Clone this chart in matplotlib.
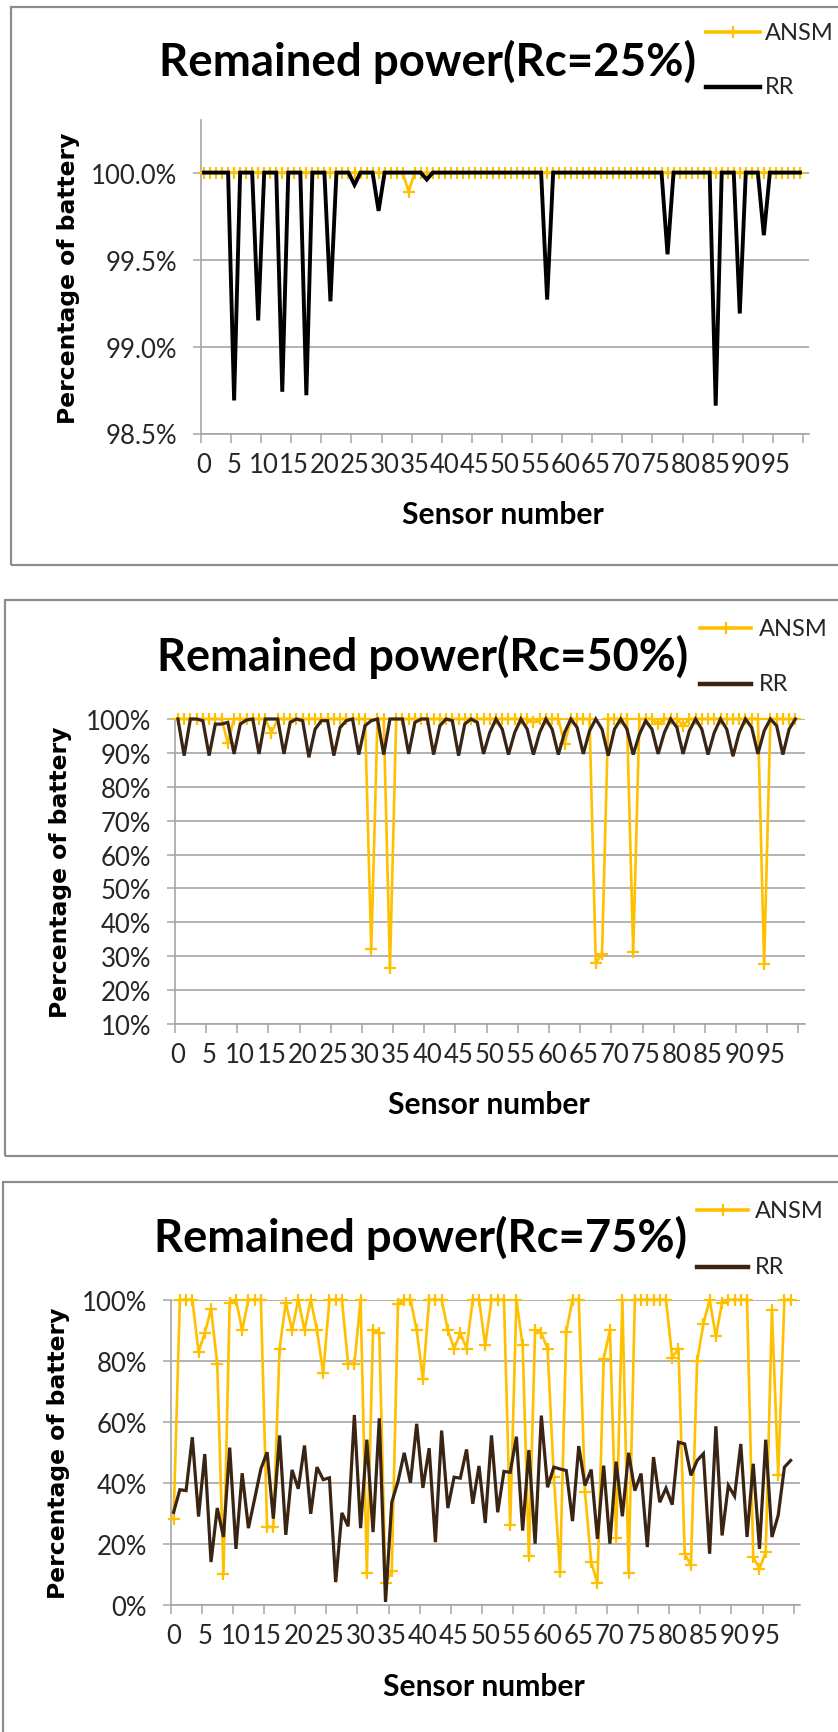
import matplotlib
matplotlib.use("Agg")
import matplotlib.pyplot as plt
from matplotlib.lines import Line2D
from matplotlib.patches import Rectangle
from matplotlib.ticker import FixedLocator, FuncFormatter

# ---------------------------------------------------------------- data
sensor_ids = list(range(100))
label_positions = list(range(0, 100, 5))
tick_labels = [str(v) for v in label_positions]

ansm_25 = [
    100, 100, 100, 100, 100, 100, 100, 100, 100, 100,
    100, 100, 100, 100, 100, 100, 100, 100, 100, 100,
    100, 100, 100, 100, 100, 100, 100, 100, 100, 100,
    100, 100, 100, 100, 99.89, 100, 100, 100, 100, 100,
    100, 100, 100, 100, 100, 100, 100, 100, 100, 100,
    100, 100, 100, 100, 100, 100, 100, 100, 100, 100,
    100, 100, 100, 100, 100, 100, 100, 100, 100, 100,
    100, 100, 100, 100, 100, 100, 100, 100, 100, 100,
    100, 100, 100, 100, 100, 100, 100, 100, 100, 100,
    100, 100, 100, 100, 100, 100, 100, 100, 100, 100,
]
rr_25 = [
    100, 100, 100, 100, 100, 98.69, 100, 100, 100, 99.15,
    100, 100, 100, 98.74, 100, 100, 100, 98.72, 100, 100,
    100, 99.26, 100, 100, 100, 99.93, 100, 100, 100, 99.78,
    100, 100, 100, 100, 100, 100, 100, 99.96, 100, 100,
    100, 100, 100, 100, 100, 100, 100, 100, 100, 100,
    100, 100, 100, 100, 100, 100, 100, 99.27, 100, 100,
    100, 100, 100, 100, 100, 100, 100, 100, 100, 100,
    100, 100, 100, 100, 100, 100, 100, 99.53, 100, 100,
    100, 100, 100, 100, 100, 98.66, 100, 100, 100, 99.19,
    100, 100, 100, 99.64, 100, 100, 100, 100, 100, 100,
]

ansm_50 = [
    100, 100, 100, 100, 100, 100, 100, 100, 93, 100,
    100, 100, 100, 100, 100, 96, 100, 100, 100, 100,
    100, 100, 100, 100, 100, 100, 100, 100, 100, 100,
    100, 32, 100, 100, 26.4, 100, 100, 100, 100, 100,
    100, 100, 100, 100, 100, 100, 100, 100, 100, 100,
    100, 100, 100, 100, 100, 100, 100, 99, 100, 100,
    100, 100, 92.6, 100, 100, 100, 100, 28, 30.7, 100,
    100, 100, 100, 31.2, 100, 100, 100, 98.5, 100, 100,
    100, 98, 100, 100, 100, 100, 100, 100, 100, 100,
    100, 100, 100, 100, 27.6, 100, 100, 100, 100, 100,
]
rr_50 = [
    100, 89.2, 100, 100, 99.5, 89.2, 98.5, 98.5, 99, 89.7,
    98.5, 99.7, 100, 89.7, 100, 100, 100, 89.7, 99, 100,
    99.5, 88.7, 97, 99.5, 99.5, 89.2, 97.5, 99.5, 100, 89.5,
    98, 99.5, 100, 89.5, 100, 100, 100, 89.7, 99, 100,
    100, 89.5, 98, 100, 99.5, 89.2, 98.5, 100, 99, 89.7,
    96, 100, 97, 89.5, 96, 100, 97, 89.5, 96, 100,
    97, 89.5, 96, 100, 97.5, 89.7, 96.5, 100, 97, 89.2,
    97, 100, 97, 89.5, 95.5, 99.5, 97, 89.7, 96, 100,
    97.5, 89.7, 96.5, 100, 97, 89.5, 96, 100, 97, 89,
    96, 100, 97.5, 89.7, 96.5, 100, 98, 89.5, 97, 100,
]

ansm_75 = [
    28.2, 100, 100, 100, 83, 89, 97, 79, 10, 99,
    100, 90, 100, 100, 100, 25.5, 25.5, 84, 99, 90,
    100, 90, 100, 90, 76, 100, 100, 100, 79, 79,
    100, 10.5, 90, 89, 7, 11, 98.5, 100, 100, 90,
    74, 100, 100, 100, 90, 84, 89, 84, 100, 100,
    85, 100, 100, 100, 26, 100, 85, 16, 90, 89,
    84, 42, 10.7, 89.5, 100, 100, 37, 14, 7, 80.6,
    90, 22, 100, 10.4, 100, 100, 100, 100, 100, 100,
    81, 84, 16.7, 13, 80, 92, 100, 88, 99, 100,
    100, 100, 100, 15.6, 11.8, 17.2, 96.7, 42.4, 100, 100,
]
rr_75 = [
    30.3, 37.7, 37.4, 54.9, 28.9, 49.4, 14.0, 31.7, 22.2, 51.5,
    18.3, 43.1, 25.1, 34.7, 44.5, 50.0, 28.2, 55.5, 22.9, 44.2,
    38.0, 52.2, 29.8, 45.1, 41.0, 41.6, 7.4, 30.1, 25.7, 62.2,
    25.1, 54.1, 23.8, 61.1, 0.9, 33.6, 40.4, 49.8, 40.0, 59.3,
    38.3, 51.3, 20.5, 57.1, 31.7, 41.8, 41.5, 50.9, 33.1, 45.5,
    26.8, 55.5, 30.3, 43.7, 43.4, 55.1, 24.3, 50.7, 20.0, 62.0,
    38.5, 45.1, 44.5, 44.0, 27.4, 52.0, 39.1, 44.3, 21.6, 45.6,
    20.0, 46.9, 29.0, 49.8, 37.4, 43.0, 18.9, 48.4, 33.6, 38.2,
    32.8, 53.3, 52.7, 42.4, 47.3, 49.5, 16.7, 58.5, 22.7, 39.1,
    35.6, 52.7, 22.2, 46.2, 18.3, 54.1, 22.2, 29.3, 45.1, 47.3,
]

series_names = ["ANSM", "RR"]
titles = ["Remained power(Rc=25%)", "Remained power(Rc=50%)", "Remained power(Rc=75%)"]
x_title = "Sensor number"
y_title = "Percentage of battery"

# ---------------------------------------------------------------- style
W, H = 838, 1733
ANSM_COLOR = "#FFC000"
GRID = "#A6A6A6"
FRAME = "#8C8C8C"
TICK_TXT = "#262626"
TICK_FONT = ["Lato", "DejaVu Sans"]
HEAD_FONT = ["Lato", "DejaVu Sans"]
YLAB_FONT = ["DejaVu Sans"]
TICK_SIZE = 18.5
LEGEND_SIZE = 17

fig = plt.figure(figsize=(W / 100, H / 100), dpi=100)
fig.patch.set_facecolor("white")


def fx(x):
    return x / W


def fy(y):
    return 1 - y / H


panels = [
    dict(ansm=ansm_25, rr=rr_25, title=titles[0], rr_color="#000000", rr_lw=2.8,
         ax=(201, 121.4, 809, 434.5), ylim=(98.5, 100.3), yticks=[98.5, 99.0, 99.5, 100.0],
         yfmt="{:.1f}%", frame=(10.7, 8.3, 860, 566), title_xy=(428, 62), title_w=537,
         leg_y=(33, 88), leg_x=(706, 760, 765), ylab_xy=(69, 278), xlab_xy=(503, 515)),
    dict(ansm=ansm_50, rr=rr_50, title=titles[1], rr_color="#3A2413", rr_lw=2.3,
         ax=(174.8, 720, 804.7, 1025), ylim=(10, 100), yticks=list(range(10, 101, 10)),
         yfmt="{:.0f}%", frame=(5.3, 600.7, 860, 1156.7), title_xy=(423, 657), title_w=531,
         leg_y=(629, 685), leg_x=(700, 751, 759), ylab_xy=(61, 872), xlab_xy=(489, 1105)),
    dict(ansm=ansm_75, rr=rr_75, title=titles[2], rr_color="#3A2413", rr_lw=2.3,
         ax=(170.5, 1300.7, 800, 1605.7), ylim=(0, 100), yticks=list(range(0, 101, 20)),
         yfmt="{:.0f}%", frame=(2.7, 1183, 860, 1760), title_xy=(420, 1238), title_w=533,
         leg_y=(1211, 1268), leg_x=(697, 748, 755), ylab_xy=(59, 1453), xlab_xy=(484, 1687)),
]

fit_list = []  # (text artist, target extent in px, measure height instead of width)

for p in panels:
    x0, y0, x1, y1 = p["frame"]
    fig.add_artist(Rectangle((fx(x0), fy(y1)), fx(x1 - x0), (y1 - y0) / H,
                             transform=fig.transFigure, fill=False,
                             edgecolor=FRAME, linewidth=1.6, zorder=0))

    a0, at, a1, ab = p["ax"]
    ax = fig.add_axes([fx(a0), fy(ab), fx(a1 - a0), (ab - at) / H])
    ax.set_facecolor("none")
    ax.plot(sensor_ids, p["ansm"], color=ANSM_COLOR, lw=1.9, marker="+", ms=8,
            mew=1.6, clip_on=False, zorder=3)
    ax.plot(sensor_ids, p["rr"], color=p["rr_color"], lw=p["rr_lw"],
            solid_joinstyle="miter", clip_on=False, zorder=4)

    ax.set_xlim(-0.5, 100.5)
    ax.set_ylim(*p["ylim"])
    ax.xaxis.set_major_locator(FixedLocator([v - 0.5 for v in range(0, 101, 5)]))
    ax.xaxis.set_major_formatter(FuncFormatter(lambda v, pos: ""))
    ax.xaxis.set_minor_locator(FixedLocator(label_positions))
    ax.xaxis.set_minor_formatter(FuncFormatter(lambda v, pos: tick_labels[pos]))
    ax.tick_params(axis="x", which="major", direction="out", length=6.3, width=1.1,
                   color=GRID)
    ax.tick_params(axis="x", which="minor", length=0, pad=13, labelsize=TICK_SIZE,
                   labelcolor=TICK_TXT)
    ax.yaxis.set_major_locator(FixedLocator(p["yticks"]))
    fmt = p["yfmt"]
    ax.yaxis.set_major_formatter(FuncFormatter(lambda v, pos, f=fmt: f.format(v)))
    ax.tick_params(axis="y", direction="out", length=6, width=1.1, color=GRID,
                   pad=11, labelsize=TICK_SIZE, labelcolor=TICK_TXT)
    for lab in ax.get_xticklabels(minor=True) + ax.get_yticklabels():
        lab.set_fontfamily(TICK_FONT)
    ax.grid(axis="y", color=GRID, linewidth=1.2, zorder=0)
    ax.set_axisbelow(True)
    for side in ("top", "right"):
        ax.spines[side].set_visible(False)
    for side in ("left", "bottom"):
        ax.spines[side].set_color(GRID)
        ax.spines[side].set_linewidth(1.2)

    tx, ty = p["title_xy"]
    t = fig.text(fx(tx), fy(ty), p["title"], ha="center", va="center",
                 fontsize=30, fontweight="bold", family=HEAD_FONT, color="black")
    fit_list.append((t, p["title_w"], False))

    lx0, lx1, ltx = p["leg_x"]
    ly_a, ly_r = p["leg_y"]
    fig.add_artist(Line2D([fx(lx0), fx(lx1)], [fy(ly_a), fy(ly_a)], transform=fig.transFigure,
                          color=ANSM_COLOR, lw=2.6))
    fig.add_artist(Line2D([fx((lx0 + lx1) / 2)], [fy(ly_a)], transform=fig.transFigure,
                          color=ANSM_COLOR, marker="+", ms=9, mew=1.6, lw=0))
    fig.add_artist(Line2D([fx(lx0), fx(lx1)], [fy(ly_r), fy(ly_r)], transform=fig.transFigure,
                          color=p["rr_color"], lw=3.2))
    fig.text(fx(ltx), fy(ly_a), series_names[0], ha="left", va="center",
             fontsize=LEGEND_SIZE, family=HEAD_FONT, color=TICK_TXT)
    fig.text(fx(ltx), fy(ly_r), series_names[1], ha="left", va="center",
             fontsize=LEGEND_SIZE, family=HEAD_FONT, color=TICK_TXT)

    yx, yy = p["ylab_xy"]
    ty_ = fig.text(fx(yx), fy(yy), y_title, ha="center", va="center", rotation=90,
                   fontsize=16, fontweight="bold", family=YLAB_FONT, color="black")
    fit_list.append((ty_, 292, True))

    xx, xy = p["xlab_xy"]
    tx_ = fig.text(fx(xx), fy(xy), x_title, ha="center", va="center",
                   fontsize=16, fontweight="bold", family=HEAD_FONT, color="black")
    fit_list.append((tx_, 203, False))

# size headings to their measured extents
renderer = fig.canvas.get_renderer()
for art, target, vertical in fit_list:
    bb = art.get_window_extent(renderer)
    cur = bb.height if vertical else bb.width
    art.set_fontsize(art.get_fontsize() * target / cur)

fig.savefig("out.png", dpi=100, facecolor="white")
